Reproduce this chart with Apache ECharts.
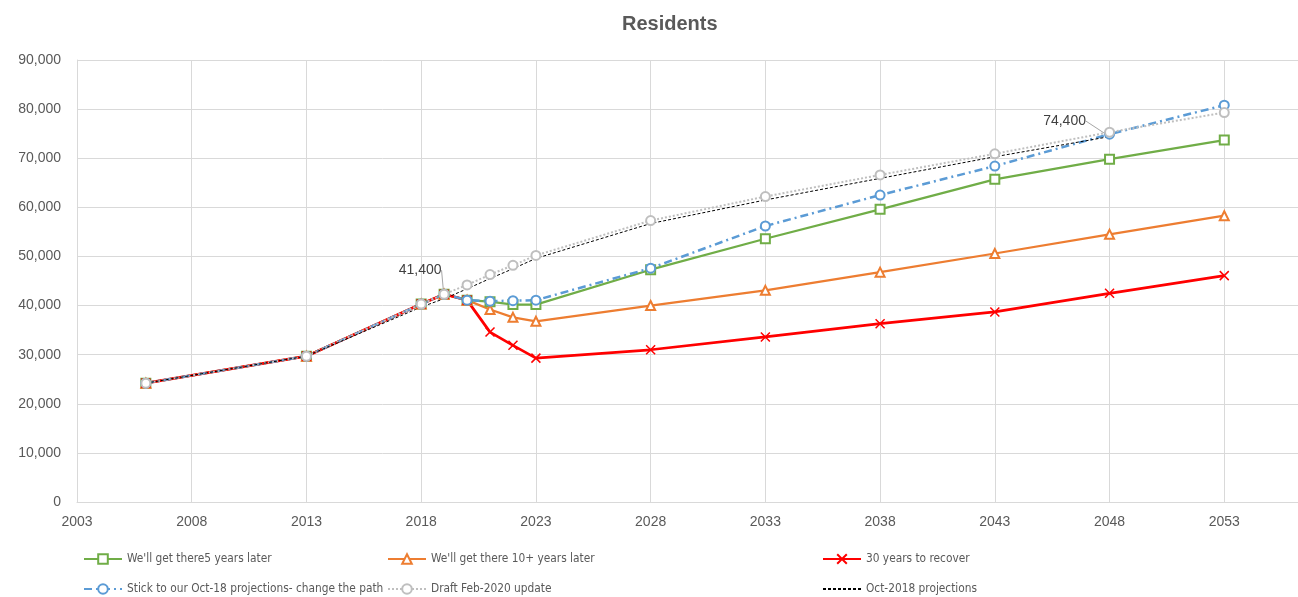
<!DOCTYPE html>
<html>
<head>
<meta charset="utf-8">
<title>Residents</title>
<script src="https://cdn.jsdelivr.net/npm/echarts@6/dist/echarts.min.js"></script>
<style>
    html, body { margin: 0; padding: 0; background: #fff; }
    #chart { width: 1298px; height: 597px; }
</style>
</head>
<body>
<div id="chart"></div>
<script>
// years on the x axis (Oct-2018 projections stop at 2048)
var years = [2006, 2013, 2018, 2019, 2020, 2021, 2022, 2023, 2028, 2033, 2038, 2043, 2048, 2053];
var oct18Years = [2006, 2013, 2018, 2019, 2020, 2021, 2022, 2023, 2028, 2033, 2038, 2043, 2048];

var fiveYearsLater = [24200, 29700, 40300, 42300, 41100, 40800, 40200, 40200, 47300, 53600, 59600, 65700, 69800, 73700];
var tenYearsLater = [24200, 29700, 40300, 42300, 41100, 39200, 37600, 36800, 40000, 43100, 46800, 50600, 54500, 58300];
var thirtyYears = [24200, 29700, 40300, 42300, 41100, 34600, 31900, 29300, 31000, 33600, 36300, 38700, 42500, 46100];
var stickOct18 = [24200, 29700, 40300, 42300, 41100, 40900, 41000, 41100, 47600, 56200, 62500, 68400, 74900, 80800];
var draftFeb20 = [24200, 29700, 40300, 42300, 44200, 46300, 48200, 50200, 57300, 62200, 66600, 70900, 75300, 79300];
var oct18Proj = [24200, 29700, 39700, 41400, 43400, 45500, 47500, 49600, 56700, 61500, 65900, 70300, 74400];

// points of the Oct-2018 series that carry a data label
var labelledYears = [2019, 2048];

var seriesNames = [
    "We'll get there5 years later",
    "We'll get there 10+ years later",
    "30 years to recover",
    "Stick to our Oct-18 projections- change the path",
    "Draft Feb-2020 update",
    "Oct-2018 projections"
];

function fmt(v) {
    return Number(v).toLocaleString('en-US');
}

function pairs(xs, ys) {
    var out = [];
    for (var i = 0; i < ys.length; i++) {
        out.push([xs[i], ys[i]]);
    }
    return out;
}

function labelledPairs(xs, ys) {
    var out = [];
    for (var i = 0; i < ys.length; i++) {
        if (labelledYears.indexOf(xs[i]) >= 0) {
            out.push({value: [xs[i], ys[i]], label: {show: true, formatter: fmt(ys[i])}, labelLine: {show: true}});
        } else {
            out.push([xs[i], ys[i]]);
        }
    }
    return out;
}

var FONT = 'Liberation Sans, Arial, sans-serif';
var NARROW = 'Liberation Sans Narrow, DejaVu Sans Condensed, Liberation Sans, sans-serif';
var labelShift = {2019: [-24, -16], 2048: [-45, -3]};

function markerSeries(name, data, color, symbol, width, dash) {
    return {
        name: name,
        type: 'line',
        data: data,
        symbol: symbol,
        symbolSize: 9,
        itemStyle: {color: color, borderWidth: 1.5},
        lineStyle: {color: color, width: width, type: dash || 'solid'},
        animation: false
    };
}

// one legend per entry, laid out as 3 columns x 2 rows like the original
function legendItem(name, left, top) {
    return {
        data: [name],
        left: left,
        top: top,
        padding: 0,
        itemWidth: 38,
        itemHeight: 12,
        itemGap: 4,
        textStyle: {color: '#595959', fontSize: 11.8, fontFamily: NARROW}
    };
}

var chart = echarts.init(document.getElementById('chart'));

var option = {
    backgroundColor: '#fff',
    title: {
        text: 'Residents',
        left: 617,
        top: 9,
        textStyle: {color: '#595959', fontSize: 20, fontWeight: 'bold', fontFamily: FONT}
    },
    legend: [
        legendItem(seriesNames[0], 83, 553),
        legendItem(seriesNames[1], 387, 553),
        legendItem(seriesNames[2], 822, 553),
        legendItem(seriesNames[3], 83, 583),
        legendItem(seriesNames[4], 387, 583),
        legendItem(seriesNames[5], 822, 583)
    ],
    grid: {left: 77, top: 60, right: -41, bottom: 95, containLabel: false, outerBoundsMode: 'none'},
    xAxis: {
        type: 'value',
        min: 2003,
        max: 2058,
        interval: 5,
        axisLine: {show: true, lineStyle: {color: '#d9d9d9'}},
        axisTick: {show: false},
        splitLine: {show: true, lineStyle: {color: '#d9d9d9'}},
        axisLabel: {color: '#595959', fontSize: 14, fontFamily: FONT, margin: 13, formatter: function (v) { return String(v); }}
    },
    yAxis: {
        type: 'value',
        min: 0,
        max: 90000,
        interval: 10000,
        axisLine: {show: true, lineStyle: {color: '#d9d9d9'}},
        axisTick: {show: false},
        splitLine: {show: true, lineStyle: {color: '#d9d9d9'}},
        axisLabel: {color: '#595959', fontSize: 14, fontFamily: FONT, margin: 16, formatter: fmt}
    },
    series: [
        markerSeries(seriesNames[0], pairs(years, fiveYearsLater), '#70ad47', 'emptyRect', 2.25),
        markerSeries(seriesNames[1], pairs(years, tenYearsLater), '#ed7d31', 'emptyTriangle', 2.25),
        markerSeries(seriesNames[2], pairs(years, thirtyYears), '#ff0000',
            'path://M0,0 L10,10 M10,0 L0,10', 2.75),
        markerSeries(seriesNames[3], pairs(years, stickOct18), '#5b9bd5', 'emptyCircle', 2.5, [8, 4, 2, 4]),
        markerSeries(seriesNames[4], pairs(years, draftFeb20), '#bfbfbf', 'emptyCircle', 2, [2, 2]),
        {
            name: seriesNames[5],
            type: 'line',
            data: labelledPairs(oct18Years, oct18Proj),
            symbol: 'circle',
            symbolSize: 1,
            itemStyle: {color: 'rgba(0,0,0,0)'},
            lineStyle: {color: '#000', width: 1, type: [3, 2]},
            label: {show: false, position: 'top', color: '#404040', fontSize: 14, fontFamily: FONT},
            labelLine: {show: true, lineStyle: {color: '#a6a6a6', width: 1}},
            labelLayout: function (params) {
                var yr = oct18Years[params.dataIndex];
                var s = labelShift[yr] || [0, 0];
                return {dx: s[0], dy: s[1]};
            },
            animation: false
        }
    ]
};

// the red cross marker is drawn with its outline
option.series[2].itemStyle = {color: '#ff0000', borderColor: '#ff0000', borderWidth: 1.5};

chart.setOption(option, true);
</script>
</body>
</html>
